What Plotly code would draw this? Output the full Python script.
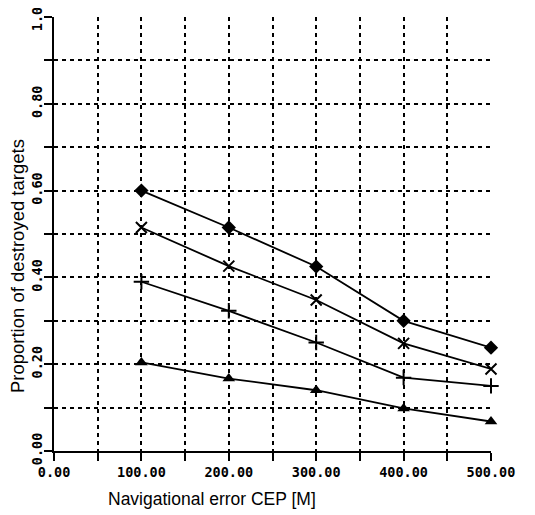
import plotly.graph_objects as go

cep = [100, 200, 300, 400, 500]
series_diamond = [0.60, 0.515, 0.425, 0.30, 0.238]
series_x = [0.515, 0.426, 0.348, 0.248, 0.189]
series_plus = [0.39, 0.323, 0.25, 0.169, 0.15]
series_triangle = [0.204, 0.167, 0.14, 0.098, 0.068]

x_tickvals = [0, 50, 100, 150, 200, 250, 300, 350, 400, 450, 500]
x_ticktext = ["0.00", "", "100.00", "", "200.00", "", "300.00", "", "400.00", "", "500.00"]
y_tickvals = [0, 0.1, 0.2, 0.3, 0.4, 0.5, 0.6, 0.7, 0.8, 0.9, 1.0]
y_ticktext = ["0.00", "", "0.20", "", "0.40", "", "0.60", "", "0.80", "", "1.00"]
x_title = "Navigational error CEP [M]"
y_title = "Proportion of destroyed targets"

fig = go.Figure()
styles = [
    (series_diamond, dict(symbol="diamond", size=11, color="black")),
    (series_x, dict(symbol="x-thin-open", size=11, color="black", line=dict(width=2, color="black"))),
    (series_plus, dict(symbol="cross-thin-open", size=11, color="black", line=dict(width=2, color="black"))),
    (series_triangle, dict(symbol="triangle-up", size=11, color="black")),
]
for ys, mk in styles:
    fig.add_trace(go.Scatter(x=cep, y=ys, mode="lines+markers",
                             line=dict(color="black", width=1.8),
                             marker=mk, showlegend=False, cliponaxis=False))

grid_common = dict(showgrid=True, gridcolor="black", gridwidth=2, griddash="4px,4px",
                   showline=True, linecolor="black", linewidth=2,
                   ticks="outside", ticklen=8, tickwidth=2, tickcolor="black",
                   zeroline=False, automargin=False, ticklabeloverflow="allow")

tickfont = dict(family="DejaVu Sans Mono", size=13.5, color="black", weight="bold")

fig.update_layout(
    width=535, height=515,
    margin=dict(l=46, r=52, t=9, b=72),
    paper_bgcolor="white", plot_bgcolor="white",
    font=dict(family="Liberation Sans, Arial", color="black"),
    xaxis=dict(range=[0, 500], tickvals=x_tickvals, ticktext=x_ticktext,
               tickfont=tickfont, **grid_common),
    yaxis=dict(range=[0, 1], tickvals=y_tickvals, ticktext=y_ticktext, tickangle=-90,
               tickfont=tickfont, ticklabelstandoff=-3, **grid_common),
    annotations=[
        dict(text=x_title, xref="paper", yref="paper", x=0.3616, y=-0.1106,
             xanchor="center", yanchor="middle", showarrow=False,
             font=dict(size=17.5, color="black")),
        dict(text=y_title, xref="paper", yref="paper", x=-0.0847, y=0.426,
             xanchor="center", yanchor="middle", showarrow=False, textangle=-90,
             font=dict(size=18.5, color="black")),
    ],
)

fig.write_html("out.html")
